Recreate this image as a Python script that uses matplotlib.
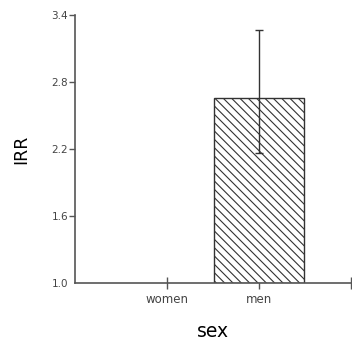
import matplotlib
matplotlib.use("Agg")
import matplotlib.pyplot as plt
import numpy as np

categories = ["women", "men"]
irr = [1.0, 2.66]
ci_low = [1.0, 2.16]
ci_high = [1.0, 3.27]
yticks = [1.0, 1.6, 2.2, 2.8, 3.4]

plt.rcParams['hatch.color'] = '#333333'
plt.rcParams['hatch.linewidth'] = 0.8

fig = plt.figure(figsize=(3.52, 3.47), dpi=100)
ax = fig.add_axes([75/352, 1-283/347, 276/352, 268/347])

x = np.arange(len(categories))
base = 1.0
heights = [v - base for v in irr]
ax.bar(x[1:], heights[1:], bottom=base, width=0.98, color='white',
       edgecolor='#333333', hatch='\\\\\\\\', linewidth=1.0, zorder=2)
yerr = [[irr[1] - ci_low[1]], [ci_high[1] - irr[1]]]
ax.errorbar(x[1], irr[1], yerr=yerr, fmt='none', ecolor='#333333',
            elinewidth=1.0, capsize=3, capthick=1.0, zorder=3)

ax.set_xlim(-1, 2)
ax.set_ylim(1.0, 3.4)
ax.set_xticks([0, 1, 2])
ax.set_xticklabels(categories + [""], fontsize=8.5, color='#444444')
ax.set_yticks(yticks)
ax.set_yticklabels([f"{v:.1f}" for v in yticks], fontsize=7.5, color='#444444')
ax.tick_params(axis='x', direction='inout', length=8, width=1, color='#555555', pad=3)
ax.tick_params(axis='y', direction='out', length=4, width=1, color='#555555', pad=1)
ax.yaxis.get_major_ticks()[0].tick1line.set_visible(False)

for s in ['top', 'right']:
    ax.spines[s].set_visible(False)
for s in ['left', 'bottom']:
    ax.spines[s].set_color('#555555')
    ax.spines[s].set_linewidth(1.2)

ax.set_ylabel("IRR", fontsize=12.5, labelpad=15)
ax.set_xlabel("sex", fontsize=13.5, labelpad=12)

fig.savefig("out.png", dpi=100)
